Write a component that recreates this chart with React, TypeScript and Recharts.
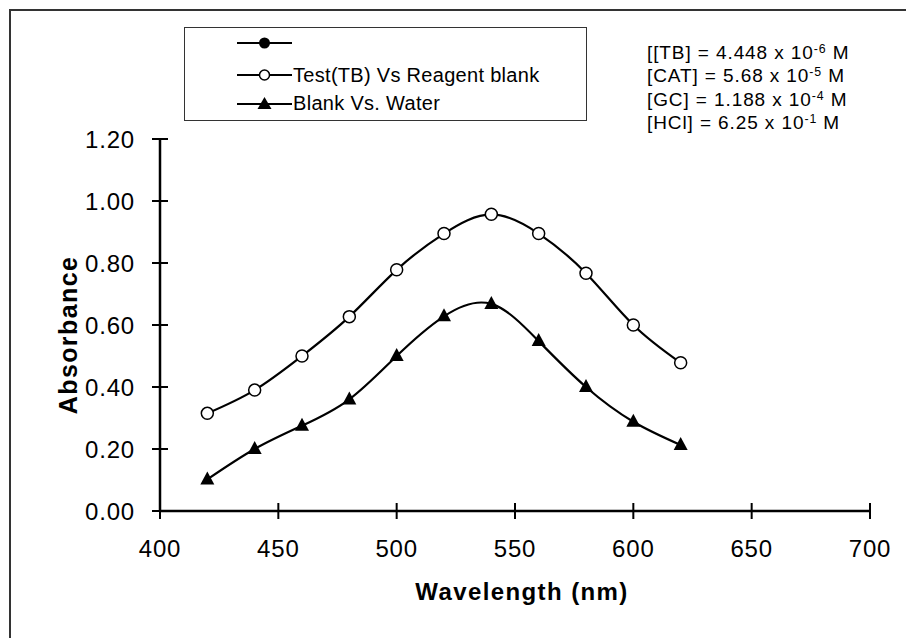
import { LineChart, Line, XAxis, YAxis, Label } from "recharts";

// wavelength (nm) of each reading
const wavelengths = [420, 440, 460, 480, 500, 520, 540, 560, 580, 600, 620];
// Test(TB) Vs Reagent blank
const testAbs = [0.315, 0.39, 0.5, 0.627, 0.778, 0.895, 0.957, 0.895, 0.767, 0.6, 0.478];
// Blank Vs. Water
const blankAbs = [0.102, 0.2, 0.275, 0.36, 0.5, 0.628, 0.668, 0.548, 0.4, 0.288, 0.213];

const xTicks = [400, 450, 500, 550, 600, 650, 700];
const yTicks = [0, 0.2, 0.4, 0.6, 0.8, 1.0, 1.2];

const legendLabels = ["", "Test(TB) Vs Reagent blank", "Blank Vs. Water"];
const legendMarkers = ["filledCircle", "openCircle", "triangle"];

const concSpecies = ["[[TB]", "[CAT]", "[GC]", "[HCl]"];
const concValues = ["4.448", "5.68", "1.188", "6.25"];
const concExponents = ["-6", "-5", "-4", "-1"];

const data = wavelengths.map((w, i) => ({
  wavelength: w,
  test: testAbs[i],
  blank: blankAbs[i],
}));

const W = 906;
const H = 638;
const MARGIN = { top: 139, right: 36, bottom: 27, left: 40 };
const Y_AXIS_W = 120;
const X_AXIS_H = 100;
const AXIS_X = MARGIN.left + Y_AXIS_W;
const AXIS_Y = H - MARGIN.bottom - X_AXIS_H;
const FONT = "'Liberation Sans', Arial, sans-serif";

const YTick = (props: any) => {
  const { y, payload } = props;
  return (
    <g>
      <line x1={AXIS_X - 8} x2={AXIS_X + 8} y1={y} y2={y} stroke="#000" strokeWidth={2} />
      <text
        x={AXIS_X - 25}
        y={y}
        textAnchor="end"
        dominantBaseline="central"
        fontSize={24}
        letterSpacing={0.8}
        fontFamily={FONT}
        fill="#000"
      >
        {Number(payload.value).toFixed(2)}
      </text>
    </g>
  );
};

const XTick = (props: any) => {
  const { x, payload } = props;
  return (
    <g>
      <line x1={x} x2={x} y1={AXIS_Y - 8} y2={AXIS_Y + 8} stroke="#000" strokeWidth={2} />
      <text
        x={x}
        y={AXIS_Y + 37}
        textAnchor="middle"
        dominantBaseline="central"
        fontSize={24}
        letterSpacing={0.8}
        fontFamily={FONT}
        fill="#000"
      >
        {payload.value}
      </text>
    </g>
  );
};

const XTitle = (props: any) => {
  const vb = props.viewBox || { x: AXIS_X, width: 710 };
  const cx = vb.x + vb.width / 2 + 7;
  return (
    <text
      x={cx}
      y={AXIS_Y + 80}
      textAnchor="middle"
      dominantBaseline="central"
      fontSize={24}
      fontWeight="bold"
      letterSpacing={1.4}
      fontFamily={FONT}
      fill="#000"
    >
      Wavelength (nm)
    </text>
  );
};

const YTitle = (props: any) => {
  const vb = props.viewBox || { y: MARGIN.top, height: AXIS_Y - MARGIN.top };
  const cx = 68;
  const cy = vb.y + vb.height / 2 + 10;
  return (
    <text
      x={cx}
      y={cy}
      transform={`rotate(-90 ${cx} ${cy})`}
      textAnchor="middle"
      dominantBaseline="central"
      fontSize={25}
      fontWeight="bold"
      letterSpacing={1.4}
      fontFamily={FONT}
      fill="#000"
    >
      Absorbance
    </text>
  );
};

const Triangle = (props: any) => {
  const { cx, cy, index } = props;
  if (cx == null || cy == null) return <g key={index} />;
  return (
    <polygon
      key={index}
      points={`${cx},${cy - 8} ${cx - 7},${cy + 5} ${cx + 7},${cy + 5}`}
      fill="#000"
    />
  );
};

function Marker({ kind }: { kind: string }) {
  return (
    <svg width={55} height={16} style={{ display: "block" }}>
      <line x1={0} x2={55} y1={8} y2={8} stroke="#000" strokeWidth={2} />
      {kind === "filledCircle" && <circle cx={27.5} cy={8} r={5.5} fill="#000" />}
      {kind === "openCircle" && (
        <circle cx={27.5} cy={8} r={5} fill="#fff" stroke="#000" strokeWidth={1.5} />
      )}
      {kind === "triangle" && <polygon points="27.5,1 20.5,13 34.5,13" fill="#000" />}
    </svg>
  );
}

export default function App() {
  return (
    <div
      style={{
        position: "relative",
        width: W,
        height: H,
        overflow: "hidden",
        background: "#fff",
        fontFamily: FONT,
      }}
    >
      <style>{`body{margin:0;overflow:hidden}`}</style>
      <div
        style={{
          position: "absolute",
          left: 9,
          top: 9,
          width: 1000,
          height: 1000,
          border: "2px solid #333",
        }}
      />
      <LineChart width={W} height={H} data={data} margin={MARGIN}>
        <XAxis
          dataKey="wavelength"
          type="number"
          domain={[400, 700]}
          ticks={xTicks}
          height={X_AXIS_H}
          axisLine={{ stroke: "#000", strokeWidth: 2.5 }}
          tickLine={false}
          tick={<XTick />}
          interval={0}
        >
          <Label content={XTitle} />
        </XAxis>
        <YAxis
          type="number"
          domain={[0, 1.2]}
          ticks={yTicks}
          width={Y_AXIS_W}
          axisLine={{ stroke: "#000", strokeWidth: 2.5 }}
          tickLine={false}
          tick={<YTick />}
          interval={0}
        >
          <Label content={YTitle} />
        </YAxis>
        <Line
          type="natural"
          dataKey="test"
          stroke="#000"
          strokeWidth={2.2}
          dot={{ r: 6, fill: "#fff", stroke: "#000", strokeWidth: 1.5 }}
          isAnimationActive={false}
        />
        <Line
          type="natural"
          dataKey="blank"
          stroke="#000"
          strokeWidth={2.2}
          dot={<Triangle />}
          isAnimationActive={false}
        />
      </LineChart>

      <div
        style={{
          position: "absolute",
          left: 184,
          top: 27,
          width: 403,
          height: 94,
          boxSizing: "border-box",
          border: "1.5px solid #333",
          background: "#fff",
        }}
      >
        {legendLabels.map((label, i) => (
          <div
            key={i}
            style={{
              position: "absolute",
              left: 52,
              top: 7 + i * 28.5,
              display: "flex",
              alignItems: "center",
              fontSize: 20,
              letterSpacing: 0.3,
              whiteSpace: "nowrap",
            }}
          >
            <Marker kind={legendMarkers[i]} />
            <span style={{ marginLeft: 1 }}>{label}</span>
          </div>
        ))}
      </div>

      <div
        style={{
          position: "absolute",
          left: 647,
          top: 41,
          fontSize: 19,
          lineHeight: "23.3px",
          letterSpacing: 0.9,
          whiteSpace: "nowrap",
        }}
      >
        {concSpecies.map((s, i) => (
          <div key={s}>
            {s} = {concValues[i]} x 10
            <sup style={{ fontSize: "0.65em", verticalAlign: "0.5em", lineHeight: 0 }}>
              {concExponents[i]}
            </sup>{" "}
            M
          </div>
        ))}
      </div>
    </div>
  );
}
